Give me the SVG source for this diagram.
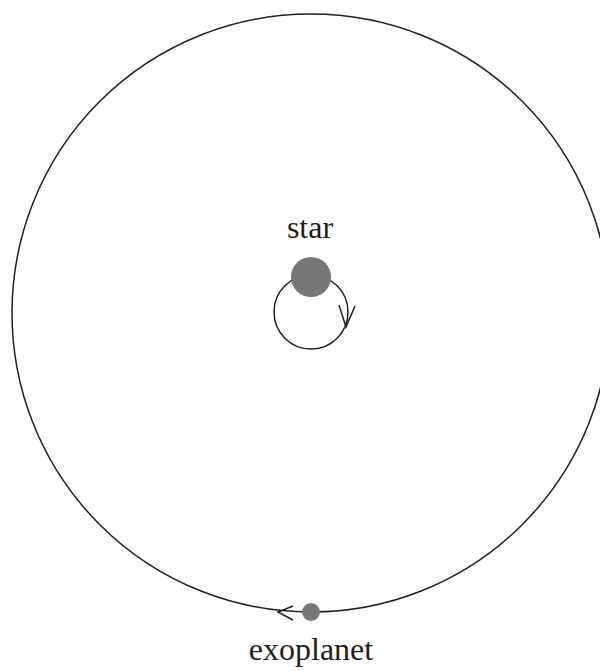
<svg xmlns="http://www.w3.org/2000/svg" width="600" height="671" viewBox="0 0 600 671">
<style>
.orbit{fill:none;stroke:#231f20;stroke-width:1.5}
.body{fill:#77777a}
.lbl{font-family:"Liberation Serif",serif;font-size:32px;fill:#231f20;text-anchor:middle}
</style>
<rect width="600" height="671" fill="#fff"/>
<g id="connectors">
<circle class="orbit" cx="311" cy="313" r="299"/>
<circle class="orbit" cx="311" cy="312" r="37"/>
<polyline class="orbit" points="339,305 346,327 355,306"/>
<polyline class="orbit" points="293,606 278,612 293,620"/>
</g>
<g id="star">
<circle class="body" cx="311" cy="277" r="20"/>
<text class="lbl" x="310" y="238">star</text>
</g>
<g id="exoplanet">
<circle class="body" cx="311" cy="612" r="9"/>
<text class="lbl" x="311" y="660">exoplanet</text>
</g>
</svg>
